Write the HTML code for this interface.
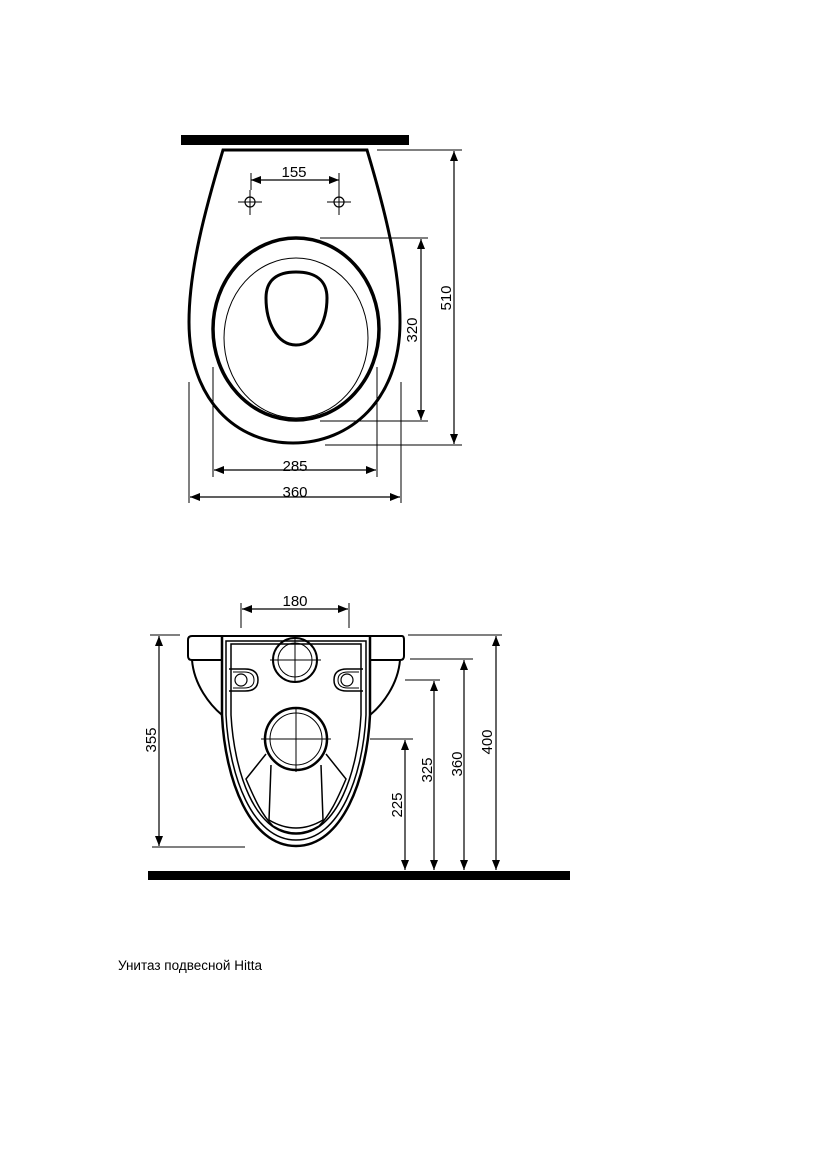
<!DOCTYPE html>
<html><head><meta charset="utf-8"><style>
html,body{margin:0;padding:0;background:#fff;}
svg{display:block}
text{font-family:"Liberation Sans",sans-serif;font-size:15px;fill:#000}
</style></head><body>
<svg width="826" height="1169" viewBox="0 0 826 1169" xmlns="http://www.w3.org/2000/svg">
<defs>
<marker id="a" viewBox="0 0 10 10" refX="10" refY="5" markerWidth="10" markerHeight="10" orient="auto-start-reverse" markerUnits="userSpaceOnUse"><path d="M0,1 L10,5 L0,9 Z" fill="#000"/></marker>
</defs>
<g fill="none" stroke="#000">
<!-- TOP VIEW -->
<rect x="181" y="135" width="228" height="10" fill="#000" stroke="none"/>
<path d="M223,150 L367,150 C385,210 400,270 400,322 C400,400 350,443 293,443 C236,443 189,400 189,322 C189,270 205,210 223,150 Z" stroke-width="3"/>
<ellipse cx="296" cy="329" rx="83" ry="91" stroke-width="3.5"/>
<ellipse cx="296" cy="338" rx="72" ry="80" stroke-width="1"/>
<path d="M296,272 C315,272 327,280 327,298 C327,322 315,345 296,345 C277,345 266,322 266,298 C266,280 277,272 296,272 Z" stroke-width="3"/>
<!-- holes -->
<circle cx="250" cy="202" r="5" stroke-width="1.2"/>
<circle cx="339" cy="202" r="5" stroke-width="1.2"/>
<path d="M238,202 H262 M250,190 V215 M327,202 H351 M339,190 V215" stroke-width="1"/>
<!-- 155 -->
<path d="M251,173 V190 M339,173 V190" stroke-width="1"/>
<line x1="251" y1="180" x2="339" y2="180" stroke-width="1.2" marker-start="url(#a)" marker-end="url(#a)"/>
<!-- 320 -->
<path d="M320,238 H428 M320,421 H428" stroke-width="1"/>
<line x1="421" y1="239" x2="421" y2="420" stroke-width="1.2" marker-start="url(#a)" marker-end="url(#a)"/>
<!-- 510 -->
<path d="M377,150 H462 M325,445 H462" stroke-width="1"/>
<line x1="454" y1="151" x2="454" y2="444" stroke-width="1.2" marker-start="url(#a)" marker-end="url(#a)"/>
<!-- 285 -->
<path d="M213,367 V477 M377,367 V477" stroke-width="1"/>
<line x1="214" y1="470" x2="376" y2="470" stroke-width="1.2" marker-start="url(#a)" marker-end="url(#a)"/>
<!-- 360 -->
<path d="M189,382 V503 M401,382 V503" stroke-width="1"/>
<line x1="190" y1="497" x2="400" y2="497" stroke-width="1.2" marker-start="url(#a)" marker-end="url(#a)"/>

<!-- FRONT VIEW -->
<rect x="148" y="871" width="422" height="9" fill="#000" stroke="none"/>
<path d="M192,636 L402,636 Q404,636 404,640 L404,656 Q404,660 400,660 L370,660" stroke-width="2"/>
<path d="M192,636 Q188,636 188,640 L188,656 Q188,660 192,660 L222,660" stroke-width="2"/>
<path d="M192,660 C194,685 210,705 222,715" stroke-width="2"/>
<path d="M400,660 C398,685 382,705 370,715" stroke-width="2"/>
<path d="M222,637 L222,715 C225,780 250,846 296,846 C342,846 367,780 370,715 L370,637" stroke-width="2.5"/>
<path d="M226,641 L366,641 L366,715 C363,775 340,840 296,840 C252,840 229,775 226,715 Z" stroke-width="1.5"/>
<path d="M231,644 L361,644 L361,715 C358,770 338,834 296,834 C254,834 234,770 231,715 Z" stroke-width="1.5"/>
<path d="M266,754 L246,779 C255,800 262,815 273,826 Q296,840 319,826 C330,815 337,800 346,779 L326,754" stroke-width="1.5"/>
<path d="M271,765 L269,820 Q296,836 323,820 L321,765" stroke-width="1.5"/>
<circle cx="295" cy="660" r="22" stroke-width="2"/>
<circle cx="295" cy="660" r="17" stroke-width="1"/>
<path d="M270,660 H321 M295,636 V683" stroke-width="1"/>
<circle cx="296" cy="739" r="31" stroke-width="2.5"/>
<circle cx="296" cy="739" r="26" stroke-width="1"/>
<path d="M261,739 H331 M296,708 V772" stroke-width="1"/>
<path d="M229,669 H245 Q258,669 258,680 Q258,691 245,691 H229" stroke-width="1.5"/>
<path d="M233,672 H244 Q254,672 254,680 Q254,688 244,688 H233" stroke-width="1"/>
<circle cx="241" cy="680" r="6" stroke-width="1.2"/>
<path d="M363,669 H347 Q334,669 334,680 Q334,691 347,691 H363" stroke-width="1.5"/>
<path d="M359,672 H348 Q338,672 338,680 Q338,688 348,688 H359" stroke-width="1"/>
<circle cx="347" cy="680" r="6" stroke-width="1.2"/>
<!-- 180 -->
<path d="M241,603 V628 M349,603 V628" stroke-width="1"/>
<line x1="242" y1="609" x2="348" y2="609" stroke-width="1.2" marker-start="url(#a)" marker-end="url(#a)"/>
<!-- 355 -->
<path d="M150,635 H180 M152,847 H245" stroke-width="1"/>
<line x1="159" y1="636" x2="159" y2="846" stroke-width="1.2" marker-start="url(#a)" marker-end="url(#a)"/>
<!-- 400 -->
<path d="M408,635 H502" stroke-width="1"/>
<line x1="496" y1="636" x2="496" y2="870" stroke-width="1.2" marker-start="url(#a)" marker-end="url(#a)"/>
<!-- 360 -->
<path d="M410,659 H473" stroke-width="1"/>
<line x1="464" y1="660" x2="464" y2="870" stroke-width="1.2" marker-start="url(#a)" marker-end="url(#a)"/>
<!-- 325 -->
<path d="M405,680 H440" stroke-width="1"/>
<line x1="434" y1="681" x2="434" y2="870" stroke-width="1.2" marker-start="url(#a)" marker-end="url(#a)"/>
<!-- 225 -->
<path d="M370,739 H413" stroke-width="1"/>
<line x1="405" y1="740" x2="405" y2="870" stroke-width="1.2" marker-start="url(#a)" marker-end="url(#a)"/>
</g>
<g text-anchor="middle">
<text x="294" y="177">155</text>
<text x="295" y="471">285</text>
<text x="295" y="497">360</text>
<text transform="translate(417,330) rotate(-90)">320</text>
<text transform="translate(451,298) rotate(-90)">510</text>
<text x="295" y="606">180</text>
<text transform="translate(156,740) rotate(-90)">355</text>
<text transform="translate(492,742) rotate(-90)">400</text>
<text transform="translate(462,764) rotate(-90)">360</text>
<text transform="translate(432,770) rotate(-90)">325</text>
<text transform="translate(402,805) rotate(-90)">225</text>
</g>
<text x="118" y="970" style="font-size:13.5px">Унитаз подвесной Hitta</text>
</svg>
</body></html>
